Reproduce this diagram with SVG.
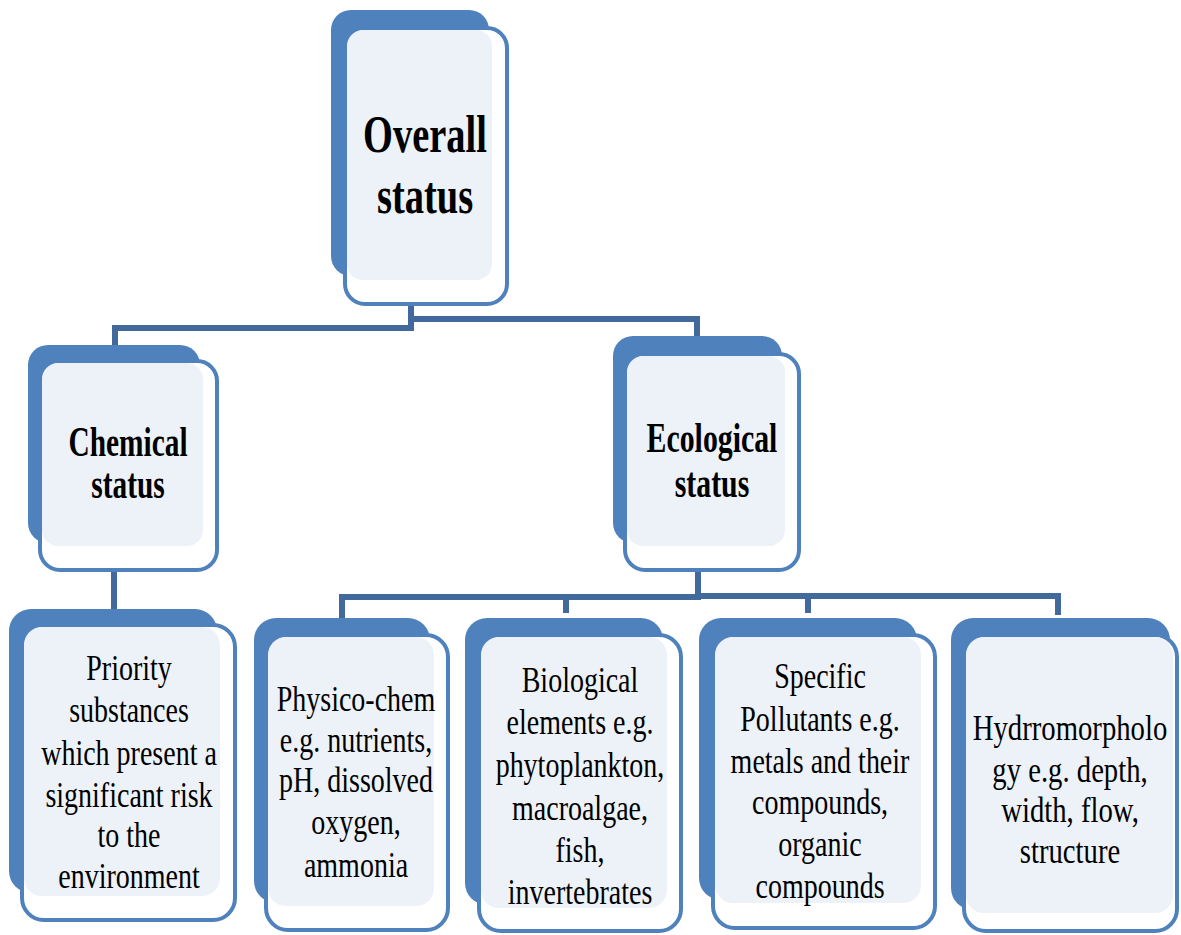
<svg xmlns="http://www.w3.org/2000/svg" width="1181" height="935" viewBox="0 0 1181 935">
<style>
.back{fill:#4F81BD}
.front{fill:#FFFFFF;stroke:#4F81BD;stroke-width:4}
.inner{fill:#EDF2F9}
.hd{font-family:"Liberation Serif","Times New Roman",serif;font-weight:bold;fill:#000;text-anchor:middle}
.bd{font-family:"Liberation Serif","Times New Roman",serif;font-size:35px;fill:#000;text-anchor:middle}
.conn{stroke:#41699C;stroke-width:6;fill:none;stroke-linecap:square}
</style>
<rect width="1181" height="935" fill="#FFFFFF"/>
<g id="connectors">
<polyline class="conn" points="411,306 411,328 115,328 115,344"/>
<polyline class="conn" points="411,319 697,319 697,334"/>
<line class="conn" x1="114" y1="572" x2="114" y2="607"/>
<polyline class="conn" points="698,572 698,597 342,597 342,615"/>
<polyline class="conn" points="698,596 1058,596 1058,612"/>
<line class="conn" x1="566" y1="597" x2="566" y2="610"/>
<line class="conn" x1="808" y1="596" x2="808" y2="610"/>
</g>
<g id="overall">
<rect class="back" x="331" y="10" width="158" height="266" rx="20"/>
<rect class="front" x="345" y="28" width="162" height="276" rx="20"/>
<rect class="inner" x="347" y="30" width="145" height="250" rx="16"/>
<text class="hd" font-size="52" transform="translate(425 0) scale(0.74 1)"><tspan x="0" y="152">Overall</tspan><tspan x="0" y="213">status</tspan></text>
</g>
<g id="chemical">
<rect class="back" x="28" y="345" width="172" height="198" rx="20"/>
<rect class="front" x="40" y="361" width="177" height="209" rx="20"/>
<rect class="inner" x="42" y="363" width="161" height="183" rx="16"/>
<text class="hd" font-size="42" transform="translate(128 0) scale(0.7 1)"><tspan x="0" y="456">Chemical</tspan><tspan x="0" y="498">status</tspan></text>
</g>
<g id="ecological">
<rect class="back" x="613" y="336" width="169" height="207" rx="20"/>
<rect class="front" x="625" y="354" width="174" height="216" rx="20"/>
<rect class="inner" x="627" y="356" width="158" height="190" rx="16"/>
<text class="hd" font-size="42" transform="translate(712 0) scale(0.71 1)"><tspan x="0" y="452">Ecological</tspan><tspan x="0" y="497">status</tspan></text>
</g>
<g id="priority">
<rect class="back" x="9" y="609" width="208" height="284" rx="22"/>
<rect class="front" x="22" y="625" width="213" height="295" rx="22"/>
<rect class="inner" x="24" y="627" width="196" height="269" rx="18"/>
<text class="bd" transform="translate(129 0) scale(0.8 1)"><tspan x="0" y="680">Priority</tspan><tspan x="0" y="722">substances</tspan><tspan x="0" y="765">which present a</tspan><tspan x="0" y="807">significant risk</tspan><tspan x="0" y="847">to the</tspan><tspan x="0" y="888">environment</tspan></text>
</g>
<g id="physico">
<rect class="back" x="254" y="618" width="176" height="285" rx="22"/>
<rect class="front" x="266" y="635" width="182" height="295" rx="22"/>
<rect class="inner" x="268" y="637" width="166" height="269" rx="18"/>
<text class="bd" transform="translate(356 0) scale(0.8 1)"><tspan x="0" y="711">Physico-chem</tspan><tspan x="0" y="752">e.g. nutrients,</tspan><tspan x="0" y="792">pH, dissolved</tspan><tspan x="0" y="834">oxygen,</tspan><tspan x="0" y="877">ammonia</tspan></text>
</g>
<g id="biological">
<rect class="back" x="465" y="618" width="198" height="287" rx="22"/>
<rect class="front" x="479" y="635" width="202" height="296" rx="22"/>
<rect class="inner" x="481" y="637" width="186" height="271" rx="18"/>
<text class="bd" transform="translate(580 0) scale(0.8 1)"><tspan x="0" y="692">Biological</tspan><tspan x="0" y="734">elements e.g.</tspan><tspan x="0" y="777">phytoplankton,</tspan><tspan x="0" y="820">macroalgae,</tspan><tspan x="0" y="862">fish,</tspan><tspan x="0" y="904">invertebrates</tspan></text>
</g>
<g id="specific">
<rect class="back" x="699" y="618" width="218" height="282" rx="22"/>
<rect class="front" x="713" y="635" width="222" height="293" rx="22"/>
<rect class="inner" x="715" y="637" width="206" height="266" rx="18"/>
<text class="bd" transform="translate(820 0) scale(0.8 1)"><tspan x="0" y="688">Specific</tspan><tspan x="0" y="731">Pollutants e.g.</tspan><tspan x="0" y="773">metals and their</tspan><tspan x="0" y="814">compounds,</tspan><tspan x="0" y="856">organic</tspan><tspan x="0" y="898">compounds</tspan></text>
</g>
<g id="hydro">
<rect class="back" x="951" y="618" width="219" height="292" rx="22"/>
<rect class="front" x="964" y="635" width="213" height="296" rx="22"/>
<rect class="inner" x="966" y="637" width="207" height="276" rx="18"/>
<text class="bd" transform="translate(1070 0) scale(0.82 1)"><tspan x="0" y="740">Hydrromorpholo</tspan><tspan x="0" y="782">gy e.g. depth,</tspan><tspan x="0" y="822">width, flow,</tspan><tspan x="0" y="863">structure</tspan></text>
</g>
</svg>
